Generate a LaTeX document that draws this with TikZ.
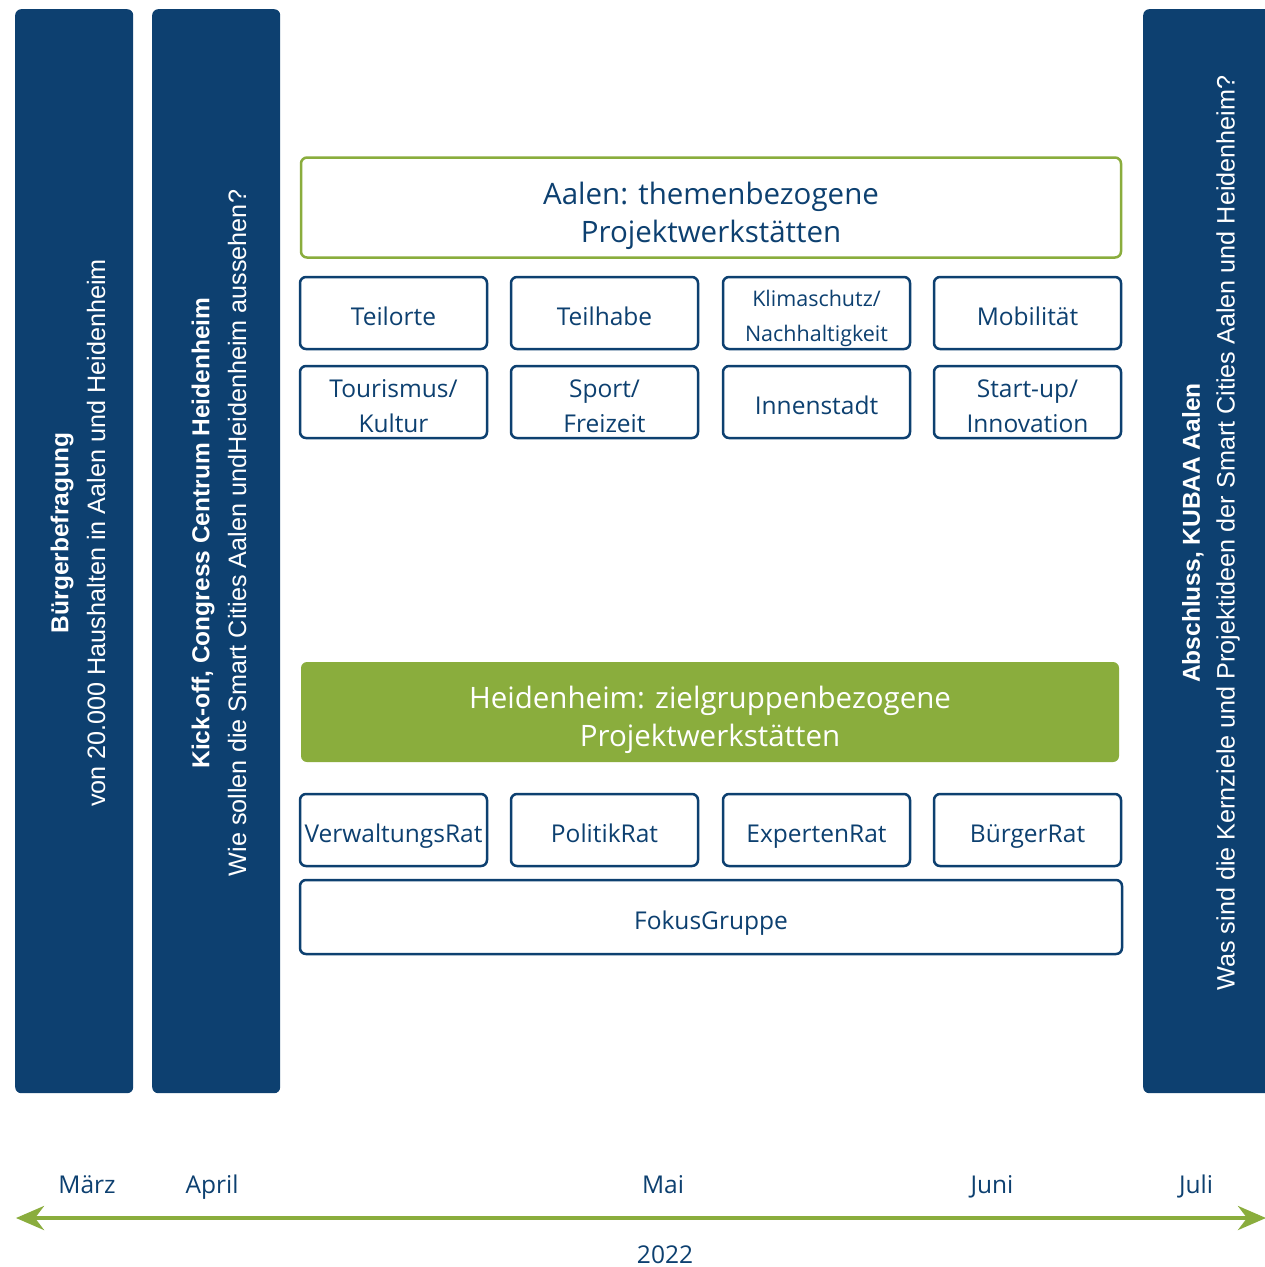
\documentclass[tikz,border=0pt]{standalone}
\usepackage{fontspec}
\setmainfont{Open Sans}
\newfontfamily\arialfont{Liberation Sans}
\usetikzlibrary{arrows.meta}
\definecolor{dblue}{HTML}{0D4070}
\definecolor{lgreen}{HTML}{8AAD3D}
\tikzset{
  bar/.style={fill=dblue, draw=none, rounded corners=6pt, anchor=north west, inner sep=0pt},
  vbold/.style={rotate=90, text=white, font=\arialfont\fontsize{24.5}{28}\selectfont\bfseries, inner sep=0pt},
  vnorm/.style={rotate=90, text=white, font=\arialfont\fontsize{25.2}{29}\selectfont, inner sep=0pt},
  cell/.style={draw=dblue, line width=2.5pt, rounded corners=6pt, minimum width=187pt, minimum height=72pt, inner sep=0pt},
  ctext/.style={text=dblue, font=\fontsize{24.5}{35}\selectfont, inner sep=0pt, text height=0.75em, text depth=0.25em, yshift=-9.6pt},
  ctwo/.style={text=dblue, align=center, font=\fontsize{24.5}{35}\selectfont, inner sep=0pt, yshift=-4pt},
  head/.style={rounded corners=6pt, minimum width=820pt, minimum height=100pt, inner sep=0pt},
  htext/.style={align=center, font=\fontsize{29.5}{37.5}\selectfont, inner sep=0pt, yshift=-8.5pt},
  month/.style={text=dblue, font=\fontsize{24.5}{28}\selectfont, inner sep=0pt, anchor=base},
}
\begin{document}
\begin{tikzpicture}[x=1pt,y=-1pt]
\clip (0,0) rectangle (1265,1267);
\fill[white] (0,0) rectangle (1265,1267);
% bars
\node[bar, minimum width=118pt, minimum height=1084pt] (b1) at (15,9) {};
\node[bar, minimum width=128pt, minimum height=1084pt] (b2) at (152,9) {};
\node[bar, minimum width=140pt, minimum height=1084pt] (b3) at (1143,9) {};
\node[vbold] (t1a) at (62,533) {Bürgerbefragung};
\node[vnorm] (t1b) at (96,533) {von 20.000 Haushalten in Aalen und Heidenheim};
\node[vbold] (t2a) at (203,533) {Kick-off, Congress Centrum Heidenheim};
\node[vnorm] (t2b) at (237,533) {Wie sollen die Smart Cities Aalen undHeidenheim aussehen?};
\node[vbold] (t3a) at (1193,533) {Abschluss, KUBAA Aalen};
\node[vnorm] (t3b) at (1228,533) {Was sind die Kernziele und Projektideen der Smart Cities Aalen und Heidenheim?};
% Aalen
\node[head, draw=lgreen, line width=2.5pt] (aalen) at (711,207.5) {};
\node[htext, text=dblue] (aalenT) at (aalen.center) {Aalen: themenbezogene\\Projektwerkstätten};
\node[cell] (c11) at (393.5,313) {};
\node[cell] (c12) at (604.5,313) {};
\node[cell] (c13) at (816.5,313) {};
\node[cell] (c14) at (1027.5,313) {};
\node[cell] (c21) at (393.5,402) {};
\node[cell] (c22) at (604.5,402) {};
\node[cell] (c23) at (816.5,402) {};
\node[cell] (c24) at (1027.5,402) {};
\node[ctext] (c11t) at (c11.center) {Teilorte};
\node[ctext] (c12t) at (c12.center) {Teilhabe};
\node[ctwo, font=\fontsize{21.5}{35}\selectfont, yshift=-1.5pt] (c13t) at (c13.center) {Klimaschutz/\\Nachhaltigkeit};
\node[ctext] (c14t) at (c14.center) {Mobilität};
\node[ctwo] (c21t) at (c21.center) {Tourismus/\\Kultur};
\node[ctwo] (c22t) at (c22.center) {Sport/\\Freizeit};
\node[ctext] (c23t) at (c23.center) {Innenstadt};
\node[ctwo] (c24t) at (c24.center) {Start-up/\\Innovation};
% Heidenheim
\node[head, fill=lgreen, minimum width=818pt] (heid) at (710,712) {};
\node[htext, text=white, yshift=0.5pt] (heidT) at (heid.center) {Heidenheim: zielgruppenbezogene\\Projektwerkstätten};
\node[cell] (c31) at (393.5,830) {};
\node[cell] (c32) at (604.5,830) {};
\node[cell] (c33) at (816.5,830) {};
\node[cell] (c34) at (1027.5,830) {};
\node[cell, minimum height=74pt, minimum width=822pt] (fokus) at (711,917) {};
\node[ctext] (c31t) at (c31.center) {VerwaltungsRat};
\node[ctext] (c32t) at (c32.center) {PolitikRat};
\node[ctext] (c33t) at (c33.center) {ExpertenRat};
\node[ctext] (c34t) at (c34.center) {BürgerRat};
\node[ctext] (fokust) at (fokus.center) {FokusGruppe};
% timeline
\node[month] (m1) at (87,1193) {März};
\node[month] (m2) at (212,1193) {April};
\node[month] (m3) at (663,1193) {Mai};
\node[month] (m4) at (992,1193) {Juni};
\node[month] (m5) at (1196,1193) {Juli};
\node[month] (yr) at (665,1263) {2022};
\coordinate (aL) at (16,1218);
\coordinate (aR) at (1266,1218);
\draw[lgreen, line width=4pt, {Stealth[length=28pt,width=24pt,inset=9pt]}-{Stealth[length=28pt,width=24pt,inset=9pt]}] (aL) -- (aR);
\end{tikzpicture}
\end{document}
